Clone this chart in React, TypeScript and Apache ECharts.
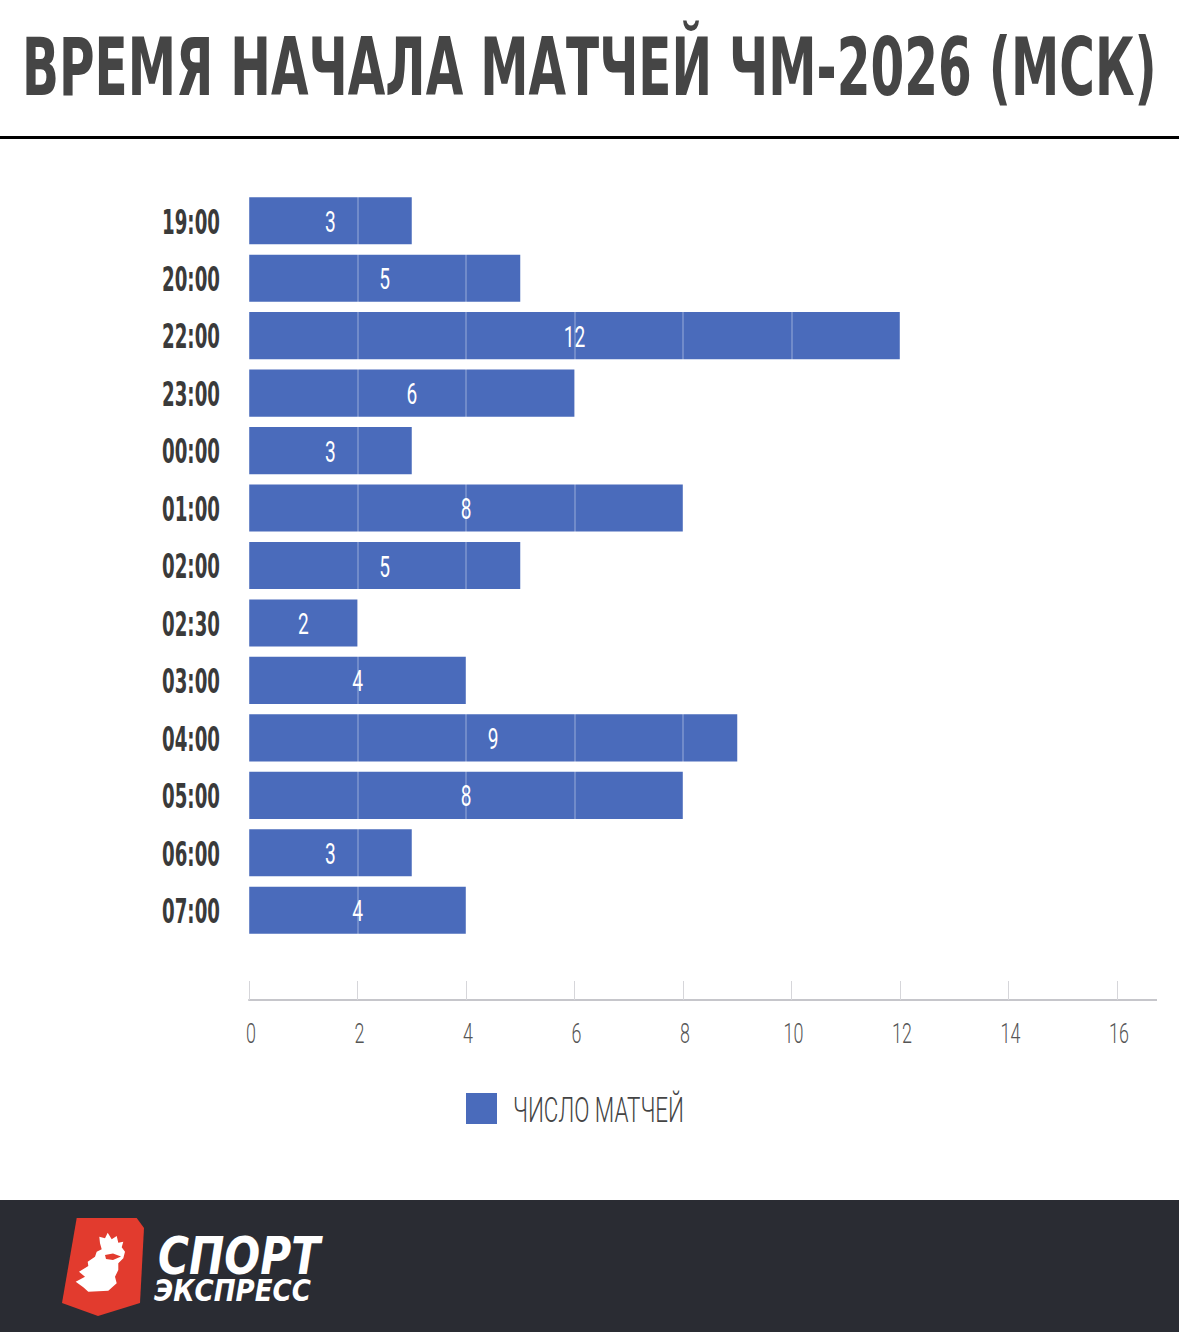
import React, { useEffect, useRef } from "react";
import * as echarts from "echarts";

const titleText = "ВРЕМЯ НАЧАЛА МАТЧЕЙ ЧМ-2026 (МСК)";
const categories = ["19:00", "20:00", "22:00", "23:00", "00:00", "01:00", "02:00", "02:30", "03:00", "04:00", "05:00", "06:00", "07:00"];
const matchCounts = [3, 5, 12, 6, 3, 8, 5, 2, 4, 9, 8, 3, 4];
const seriesName = "ЧИСЛО МАТЧЕЙ";
const xMin = 0;
const xMax = 16;
const xStep = 2;
const xTickLabels = [0, 2, 4, 6, 8, 10, 12, 14, 16];
const brandTop = "СПОРТ";
const brandBottom = "ЭКСПРЕСС";

const BAR = "#4a6bbb";
const Y_FONT = "bold 34px 'DejaVu Sans'";
const VAL_FONT = "400 29px Roboto";
const X_FONT = "300 28px Roboto";
const LEG_FONT = "300 36px Roboto";

function measure(text: string, font: string): number {
  const c = document.createElement("canvas");
  const ctx = c.getContext("2d")!;
  ctx.font = font;
  return ctx.measureText(text).width;
}

export default function App() {
  const ref = useRef<HTMLDivElement>(null);
  useEffect(() => {
    document.body.style.margin = "0";
    const chart = echarts.init(ref.current!, undefined, { renderer: "svg" });
    const titleFont = "bold 80px 'DejaVu Sans'";
    const titleScale = 1136 / measure(titleText, titleFont);
    const b1w = measure(brandTop, "italic bold 52px 'DejaVu Sans'");
    const b2w = measure(brandBottom, "italic bold 30px 'DejaVu Sans'");
    const legScale = 171 / measure(seriesName, LEG_FONT);
    const yScale = 58 / measure("19:00", Y_FONT);
    const valScale = 0.66;
    const xScale = 0.64;

    chart.setOption({
      animation: false,
      backgroundColor: "#ffffff",
      grid: { left: 249, right: 62, top: 192, height: 747, containLabel: false },
      xAxis: {
        type: "value",
        min: xMin,
        max: xMax,
        interval: xStep,
        offset: 61,
        z: 5,
        axisLine: { show: true, lineStyle: { color: "#c6c6cb", width: 2 } },
        axisTick: { show: true, inside: true, length: 19, lineStyle: { color: "#d6d6da", width: 1 } },
        axisLabel: { show: false },
        splitLine: { show: true, lineStyle: { color: "rgba(255,255,255,0.22)", width: 2 } },
      },
      yAxis: {
        type: "category",
        data: categories,
        inverse: true,
        axisLine: { show: false },
        axisTick: { show: false },
        axisLabel: { show: false },
      },
      series: [
        {
          name: seriesName,
          type: "bar",
          data: matchCounts,
          barCategoryGap: "18%",
          itemStyle: { color: BAR },
        },
        {
          type: "custom",
          name: "yLabels",
          z: 10,
          data: categories.map((_, i) => [0, i]),
          renderItem: (params: any, api: any) => {
            const p = api.coord([0, api.value(1)]);
            return {
              type: "text",
              x: p[0] - 29,
              y: p[1] + 1,
              scaleX: yScale,
              style: { text: categories[params.dataIndex], font: Y_FONT, fill: "#3a3a3a", align: "right", verticalAlign: "middle" },
            };
          },
        },
        {
          type: "custom",
          name: "valueLabels",
          z: 10,
          data: matchCounts.map((v, i) => [v, i]),
          renderItem: (params: any, api: any) => {
            const v = api.value(0);
            const p = api.coord([v / 2, api.value(1)]);
            return {
              type: "text",
              x: p[0],
              y: p[1] + 1,
              scaleX: valScale,
              style: { text: String(matchCounts[params.dataIndex]), font: VAL_FONT, fill: "#ffffff", align: "center", verticalAlign: "middle" },
            };
          },
        },
        {
          type: "custom",
          name: "xLabels",
          z: 10,
          data: xTickLabels.map((v) => [v, categories.length - 1]),
          renderItem: (params: any, api: any) => {
            const p = api.coord([api.value(0), api.value(1)]);
            const half = api.size([0, 1])[1] / 2;
            return {
              type: "text",
              x: p[0] + 2,
              y: p[1] + half + 61 + 33,
              scaleX: xScale,
              style: { text: String(xTickLabels[params.dataIndex]), font: X_FONT, fill: "#555555", align: "center", verticalAlign: "middle" },
            };
          },
        },
      ],
      graphic: [
        {
          type: "text",
          left: 22,
          top: 28,
          scaleX: titleScale,
          style: { text: titleText, font: titleFont, fill: "#454545" },
        },
        { type: "rect", shape: { x: 0, y: 136, width: 1179, height: 3 }, style: { fill: "#000" } },
        { type: "line", shape: { x1: 1117, y1: 1000, x2: 1157, y2: 1000 }, style: { stroke: "#c6c6cb", lineWidth: 2 } },
        { type: "rect", shape: { x: 466, y: 1093, width: 31, height: 31 }, style: { fill: BAR } },
        {
          type: "text",
          x: 513,
          y: 1109,
          scaleX: legScale,
          style: { text: seriesName, font: LEG_FONT, fill: "#444444", align: "left", verticalAlign: "middle" },
        },
        { type: "rect", shape: { x: 0, y: 1200, width: 1179, height: 132 }, style: { fill: "#2a2c33" } },
        {
          type: "polygon",
          shape: { points: [[76.7, 1218], [136.7, 1218], [144, 1228], [140, 1303], [98, 1316], [62, 1303]] },
          style: { fill: "#e23b2e" },
        },
        {
          type: "polygon",
          shape: {
            points: [
              [99.3, 1236.7], [105, 1238.3], [107.7, 1232.7], [111.7, 1239.3], [116.7, 1236], [118.3, 1242.7],
              [123.3, 1241.7], [121.7, 1247.3], [125, 1251.7], [123.3, 1258.3], [118.3, 1263.3], [118.3, 1270],
              [115, 1276.7], [116.7, 1283.3], [108.3, 1290.7], [88.3, 1291.7], [83.3, 1287.3], [75.7, 1281.7],
              [85, 1276.7], [79, 1271.7], [88.3, 1266], [87.7, 1261.7], [95, 1256.7], [96.7, 1251.7],
              [101.7, 1249.3], [100, 1243.3],
            ],
          },
          style: { fill: "#ffffff" },
        },
        {
          type: "polygon",
          shape: { points: [[105, 1255], [113, 1253.5], [121, 1256.5], [113, 1260], [106, 1259]] },
          style: { fill: "#e23b2e" },
        },
        {
          type: "text",
          x: 158,
          y: 1230,
          scaleX: 162 / b1w,
          style: { text: brandTop, font: "italic bold 52px 'DejaVu Sans'", fill: "#ffffff" },
        },
        {
          type: "text",
          x: 154,
          y: 1276,
          scaleX: 157 / b2w,
          style: { text: brandBottom, font: "italic bold 30px 'DejaVu Sans'", fill: "#ffffff" },
        },
      ],
    });
    return () => chart.dispose();
  }, []);
  return <div ref={ref} style={{ width: 1179, height: 1332 }} />;
}
